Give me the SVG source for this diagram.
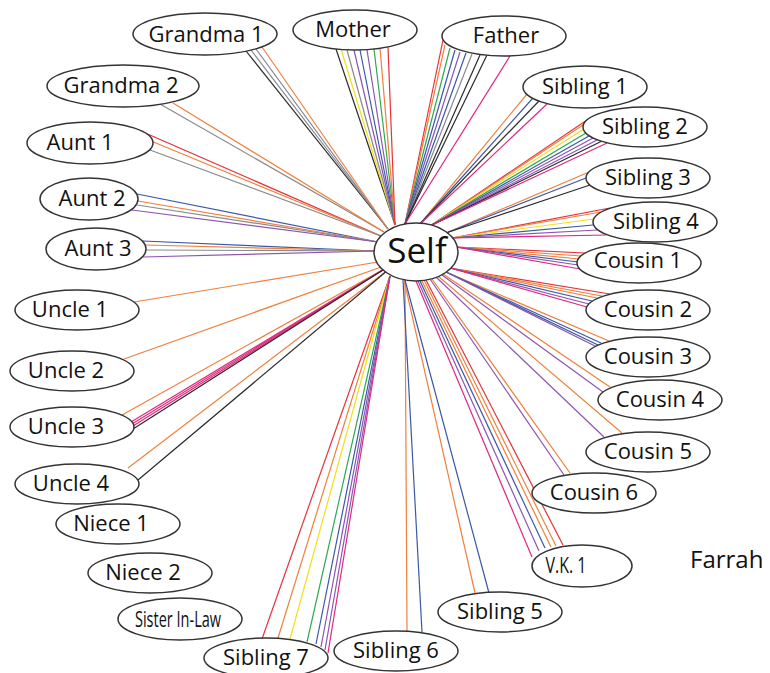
<svg xmlns="http://www.w3.org/2000/svg" width="770" height="673" viewBox="0 0 770 673">
<style>
#connectors line{stroke-width:1.2;fill:none}
.r{stroke:#e5323b}.o{stroke:#f0803c}.y{stroke:#f0df1c}.g{stroke:#2fa84f}.b{stroke:#3b58a8}.p{stroke:#8c56b0}.k{stroke:#2b2b2b}.n{stroke:#8a8a8a}.m{stroke:#e0287f}.s{stroke:#7d7f9e}
.node ellipse{fill:#fff;stroke:#333;stroke-width:1.5}
.node text{font-family:"Open Sans","Liberation Sans",sans-serif;font-size:22px;fill:#111;text-anchor:middle}
.cond{font-family:"Liberation Sans",sans-serif}
</style>
<rect width="770" height="673" fill="#fff"/>
<g id="connectors">
<line class="k" x1="388" y1="229" x2="246" y2="51"/>
<line class="n" x1="388" y1="229" x2="251" y2="50"/>
<line class="s" x1="388" y1="229" x2="256" y2="49"/>
<line class="o" x1="388" y1="229" x2="262" y2="47"/>
<line class="n" x1="384" y1="232" x2="160" y2="104"/>
<line class="o" x1="384" y1="232" x2="173" y2="103"/>
<line class="r" x1="381" y1="236" x2="143" y2="132"/>
<line class="o" x1="381" y1="236" x2="151" y2="141"/>
<line class="n" x1="381" y1="236" x2="150" y2="150"/>
<line class="b" x1="378" y1="242" x2="137" y2="194"/>
<line class="o" x1="378" y1="242" x2="138" y2="201"/>
<line class="n" x1="378" y1="242" x2="137" y2="205"/>
<line class="p" x1="378" y1="242" x2="132" y2="210"/>
<line class="b" x1="375" y1="251" x2="143" y2="241"/>
<line class="o" x1="375" y1="251" x2="146" y2="245"/>
<line class="n" x1="375" y1="251" x2="146" y2="250"/>
<line class="p" x1="375" y1="251" x2="143" y2="257"/>
<line class="o" x1="378" y1="262" x2="134" y2="302"/>
<line class="o" x1="384" y1="266" x2="124" y2="359"/>
<line class="o" x1="386" y1="268" x2="122" y2="415"/>
<line class="m" x1="386" y1="268" x2="131" y2="422"/>
<line class="m" x1="386" y1="268" x2="132" y2="424"/>
<line class="m" x1="386" y1="268" x2="133" y2="426"/>
<line class="k" x1="386" y1="268" x2="133" y2="429"/>
<line class="o" x1="388" y1="270" x2="128" y2="468"/>
<line class="k" x1="388" y1="270" x2="138" y2="480"/>
<line class="r" x1="390" y1="276" x2="262" y2="639"/>
<line class="o" x1="390" y1="276" x2="278" y2="638"/>
<line class="y" x1="390" y1="276" x2="290" y2="639"/>
<line class="g" x1="390" y1="276" x2="307" y2="642"/>
<line class="b" x1="390" y1="276" x2="316" y2="644"/>
<line class="p" x1="390" y1="276" x2="321" y2="647"/>
<line class="p" x1="390" y1="276" x2="325" y2="650"/>
<line class="m" x1="390" y1="276" x2="328" y2="653"/>
<line class="o" x1="405" y1="280" x2="407" y2="631"/>
<line class="b" x1="403" y1="280" x2="422" y2="632"/>
<line class="o" x1="404" y1="280" x2="475" y2="593"/>
<line class="b" x1="405" y1="280" x2="489" y2="593"/>
<line class="m" x1="416" y1="281" x2="532" y2="557"/>
<line class="p" x1="418" y1="281" x2="539" y2="551"/>
<line class="b" x1="420" y1="281" x2="545" y2="548"/>
<line class="o" x1="422" y1="281" x2="551" y2="547"/>
<line class="o" x1="424" y1="280" x2="556" y2="546"/>
<line class="r" x1="426" y1="280" x2="563" y2="545"/>
<line class="p" x1="430" y1="279" x2="564" y2="475"/>
<line class="o" x1="432" y1="279" x2="570" y2="473"/>
<line class="p" x1="436" y1="277" x2="604" y2="437"/>
<line class="o" x1="438" y1="276" x2="622" y2="433"/>
<line class="p" x1="442" y1="275" x2="603" y2="392"/>
<line class="o" x1="443" y1="274" x2="610" y2="387"/>
<line class="o" x1="446" y1="272" x2="609" y2="341"/>
<line class="b" x1="446" y1="272" x2="601" y2="343"/>
<line class="b" x1="446" y1="272" x2="598" y2="345"/>
<line class="p" x1="446" y1="272" x2="595" y2="346"/>
<line class="r" x1="450" y1="268" x2="610" y2="294"/>
<line class="o" x1="450" y1="268" x2="602" y2="296"/>
<line class="o" x1="450" y1="268" x2="597" y2="298"/>
<line class="b" x1="450" y1="268" x2="592" y2="301"/>
<line class="p" x1="450" y1="268" x2="589" y2="304"/>
<line class="m" x1="450" y1="268" x2="587" y2="307"/>
<line class="r" x1="456" y1="247" x2="585" y2="253"/>
<line class="o" x1="456" y1="247" x2="581" y2="256"/>
<line class="o" x1="456" y1="247" x2="579" y2="259"/>
<line class="b" x1="456" y1="247" x2="578" y2="262"/>
<line class="p" x1="456" y1="247" x2="578" y2="265"/>
<line class="m" x1="456" y1="247" x2="580" y2="269"/>
<line class="r" x1="452" y1="238" x2="610" y2="208"/>
<line class="o" x1="452" y1="238" x2="601" y2="212"/>
<line class="y" x1="452" y1="238" x2="594" y2="219"/>
<line class="b" x1="452" y1="238" x2="593" y2="225"/>
<line class="p" x1="452" y1="238" x2="597" y2="230"/>
<line class="m" x1="452" y1="238" x2="606" y2="235"/>
<line class="o" x1="446" y1="233" x2="589" y2="172"/>
<line class="b" x1="446" y1="233" x2="586" y2="178"/>
<line class="k" x1="446" y1="233" x2="590" y2="185"/>
<line class="r" x1="430" y1="226" x2="590" y2="118"/>
<line class="o" x1="430" y1="226" x2="586" y2="123"/>
<line class="y" x1="430" y1="226" x2="584" y2="129"/>
<line class="g" x1="430" y1="226" x2="586" y2="133"/>
<line class="b" x1="430" y1="226" x2="589" y2="136"/>
<line class="p" x1="430" y1="226" x2="593" y2="138"/>
<line class="p" x1="430" y1="226" x2="597" y2="140"/>
<line class="k" x1="430" y1="226" x2="602" y2="141"/>
<line class="m" x1="430" y1="226" x2="607" y2="143"/>
<line class="o" x1="420" y1="224" x2="527" y2="94"/>
<line class="b" x1="420" y1="224" x2="533" y2="98"/>
<line class="k" x1="420" y1="224" x2="539" y2="101"/>
<line class="m" x1="420" y1="224" x2="547" y2="104"/>
<line class="r" x1="405" y1="224" x2="443" y2="40"/>
<line class="o" x1="405" y1="224" x2="445" y2="45"/>
<line class="g" x1="405" y1="224" x2="450" y2="48"/>
<line class="b" x1="405" y1="224" x2="455" y2="50"/>
<line class="p" x1="405" y1="224" x2="460" y2="52"/>
<line class="b" x1="405" y1="224" x2="466" y2="53"/>
<line class="n" x1="405" y1="224" x2="472" y2="54"/>
<line class="k" x1="405" y1="224" x2="480" y2="55"/>
<line class="k" x1="405" y1="224" x2="487" y2="55"/>
<line class="m" x1="405" y1="224" x2="510" y2="56"/>
<line class="k" x1="395" y1="225" x2="336" y2="49"/>
<line class="y" x1="395" y1="225" x2="341" y2="49"/>
<line class="n" x1="395" y1="225" x2="347" y2="50"/>
<line class="p" x1="395" y1="225" x2="354" y2="50"/>
<line class="b" x1="395" y1="225" x2="360" y2="50"/>
<line class="p" x1="395" y1="225" x2="367" y2="50"/>
<line class="g" x1="395" y1="225" x2="374" y2="49"/>
<line class="o" x1="395" y1="225" x2="380" y2="48"/>
<line class="r" x1="395" y1="225" x2="388" y2="47"/>
</g>
<g id="self" class="node"><ellipse cx="416" cy="252" rx="42" ry="29"/><text x="417" y="263" style="font-size:35px">Self</text></g>
<g id="grandma1" class="node"><ellipse cx="205" cy="34" rx="72" ry="21"/><text x="206" y="42">Grandma 1</text></g>
<g id="mother" class="node"><ellipse cx="355" cy="30" rx="62" ry="20"/><text x="353" y="37">Mother</text></g>
<g id="father" class="node"><ellipse cx="504" cy="36" rx="62" ry="20"/><text x="506" y="43">Father</text></g>
<g id="grandma2" class="node"><ellipse cx="123" cy="86" rx="76" ry="21"/><text x="121" y="93">Grandma 2</text></g>
<g id="aunt1" class="node"><ellipse cx="90" cy="143" rx="63" ry="21"/><text x="80" y="150">Aunt 1</text></g>
<g id="aunt2" class="node"><ellipse cx="89" cy="199" rx="49" ry="21"/><text x="92" y="206">Aunt 2</text></g>
<g id="aunt3" class="node"><ellipse cx="96" cy="249" rx="50" ry="21"/><text x="98" y="256">Aunt 3</text></g>
<g id="uncle1" class="node"><ellipse cx="77" cy="310" rx="62" ry="20"/><text x="70" y="317">Uncle 1</text></g>
<g id="uncle2" class="node"><ellipse cx="72" cy="371" rx="62" ry="20"/><text x="66" y="378">Uncle 2</text></g>
<g id="uncle3" class="node"><ellipse cx="72" cy="427" rx="62" ry="20"/><text x="66" y="434">Uncle 3</text></g>
<g id="uncle4" class="node"><ellipse cx="77" cy="484" rx="62" ry="20"/><text x="71" y="491">Uncle 4</text></g>
<g id="niece1" class="node"><ellipse cx="118" cy="524" rx="62" ry="20"/><text x="111" y="531">Niece 1</text></g>
<g id="niece2" class="node"><ellipse cx="150" cy="573" rx="62" ry="20"/><text x="143" y="580">Niece 2</text></g>
<g id="sisterinlaw" class="node"><ellipse cx="180" cy="619" rx="62" ry="21"/><text class="cond" x="178" y="627" style="font-size:21px" textLength="86" lengthAdjust="spacingAndGlyphs">Sister In-Law</text></g>
<g id="sibling7" class="node"><ellipse cx="266" cy="658" rx="62" ry="20"/><text x="266" y="665">Sibling 7</text></g>
<g id="sibling6" class="node"><ellipse cx="396" cy="651" rx="62" ry="20"/><text x="396" y="658">Sibling 6</text></g>
<g id="sibling5" class="node"><ellipse cx="500" cy="612" rx="62" ry="20"/><text x="500" y="619">Sibling 5</text></g>
<g id="vk1" class="node"><ellipse cx="582" cy="566" rx="50" ry="21"/><text class="cond" x="566" y="573" textLength="41" lengthAdjust="spacingAndGlyphs">V.K. 1</text></g>
<g id="sibling1" class="node"><ellipse cx="585" cy="87" rx="62" ry="21"/><text x="585" y="94">Sibling 1</text></g>
<g id="sibling2" class="node"><ellipse cx="645" cy="127" rx="62" ry="20"/><text x="645" y="134">Sibling 2</text></g>
<g id="sibling3" class="node"><ellipse cx="648" cy="178" rx="62" ry="20"/><text x="648" y="185">Sibling 3</text></g>
<g id="sibling4" class="node"><ellipse cx="655" cy="222" rx="62" ry="20"/><text x="656" y="229">Sibling 4</text></g>
<g id="cousin1" class="node"><ellipse cx="639" cy="263" rx="62" ry="20"/><text x="638" y="268">Cousin 1</text></g>
<g id="cousin2" class="node"><ellipse cx="648" cy="310" rx="62" ry="20"/><text x="648" y="317">Cousin 2</text></g>
<g id="cousin3" class="node"><ellipse cx="648" cy="357" rx="62" ry="20"/><text x="648" y="364">Cousin 3</text></g>
<g id="cousin4" class="node"><ellipse cx="660" cy="400" rx="62" ry="20"/><text x="660" y="407">Cousin 4</text></g>
<g id="cousin5" class="node"><ellipse cx="648" cy="452" rx="62" ry="20"/><text x="648" y="459">Cousin 5</text></g>
<g id="cousin6" class="node"><ellipse cx="594" cy="493" rx="62" ry="20"/><text x="594" y="500">Cousin 6</text></g>
<text x="690" y="568" style="font-family:'Open Sans','Liberation Sans',sans-serif;font-size:24px;fill:#111">Farrah</text>
</svg>
